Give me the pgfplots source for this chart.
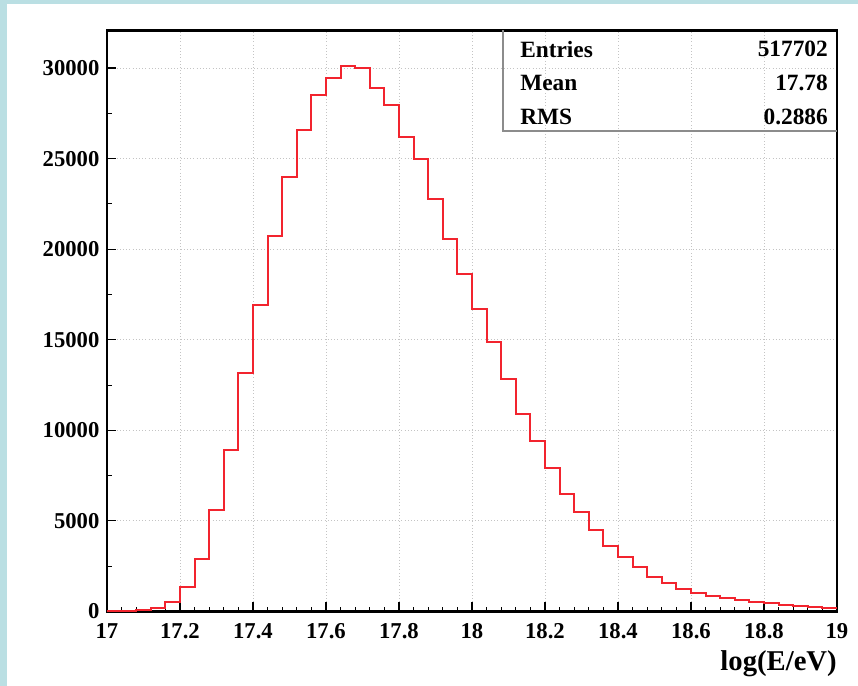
\documentclass[border=0pt]{standalone}
\usepackage{fontspec}
\setmainfont{Liberation Serif}
\usepackage{pgfplots}
\pgfplotsset{compat=1.18}

\definecolor{bgblue}{HTML}{BADFE3}
\definecolor{histred}{HTML}{F2242E}
\definecolor{gridgray}{HTML}{C4C4C4}
\definecolor{boxgray}{HTML}{8C8C8C}

\begin{document}
\begin{tikzpicture}
% canvas: 858x686 px at 0.75pt per px, axis corner at px (107,611.5)
\useasboundingbox (-80.25pt,-55.875pt) rectangle (563.25pt,458.625pt);
\fill[bgblue] (-80.25pt,-55.875pt) rectangle (563.25pt,458.625pt);
\fill[white] (-75pt,-55.875pt) rectangle (563.25pt,455.625pt);
\begin{axis}[
    at={(0pt,0pt)}, anchor=south west,
    scale only axis,
    width=547.5pt, height=435.75pt,
    xmin=17, xmax=19, ymin=0, ymax=32070,
    xtick={17,17.2,17.4,17.6,17.8,18,18.2,18.4,18.6,18.8,19},
    ytick={0,5000,10000,15000,20000,25000,30000},
    scaled y ticks=false,
    minor x tick num=4,
    minor y tick num=1,
    xtick pos=bottom, ytick pos=left,
    major tick length=7pt, minor tick length=3.5pt,
    tick style={black, line width=0.8pt},
    axis line style={black, line width=2pt},
    grid=major,
    major grid style={gridgray, dotted, line width=0.7pt},
    /pgf/number format/assume math mode=true,
    /pgf/number format/1000 sep={},
    ticklabel style={font=\bfseries\fontsize{17}{18}\selectfont},
    xticklabel style={inner sep=0pt, yshift=-8.6pt},
    yticklabel style={inner sep=0pt, xshift=-5.5pt},
    xlabel={log(E/eV)},
    xlabel style={font=\bfseries\fontsize{21.5}{22}\selectfont,
        at={(axis description cs:1,0)}, anchor=north east,
        inner sep=0pt, yshift=-29pt},
    clip=false,
]
\addplot[const plot, histred, line width=1.5pt, mark=none] coordinates {
(17.00,20) (17.04,30) (17.08,80) (17.12,200) (17.16,525)
(17.20,1340) (17.24,2900) (17.28,5625) (17.32,8900) (17.36,13150)
(17.40,16900) (17.44,20700) (17.48,24000) (17.52,26600) (17.56,28500)
(17.60,29440) (17.64,30120) (17.68,29980) (17.72,28900) (17.76,27930)
(17.80,26200) (17.84,24950) (17.88,22790) (17.92,20580) (17.96,18650)
(18.00,16720) (18.04,14890) (18.08,12850) (18.12,10900) (18.16,9400)
(18.20,7900) (18.24,6470) (18.28,5500) (18.32,4480) (18.36,3640)
(18.40,3020) (18.44,2450) (18.48,1910) (18.52,1560) (18.56,1230)
(18.60,1000) (18.64,850) (18.68,720) (18.72,620) (18.76,530)
(18.80,450) (18.84,375) (18.88,300) (18.92,250) (18.96,210)
(19.00,210)
};
% statistics box
\draw[boxgray, line width=0.8pt] (rel axis cs:0.5425,1) -- (rel axis cs:0.5425,0.827) -- (rel axis cs:1,0.827);
\begin{scope}[every node/.style={font=\bfseries\fontsize{17.5}{18}\selectfont, inner sep=0pt}]
\node[anchor=west] at (rel axis cs:0.5658,0.968) {Entries};
\node[anchor=east] at (rel axis cs:0.9877,0.968) {517702};
\node[anchor=west] at (rel axis cs:0.5658,0.9096) {Mean};
\node[anchor=east] at (rel axis cs:0.9877,0.9096) {17.78};
\node[anchor=west] at (rel axis cs:0.5658,0.851) {RMS};
\node[anchor=east] at (rel axis cs:0.9877,0.851) {0.2886};
\end{scope}
\end{axis}
\end{tikzpicture}
\end{document}
